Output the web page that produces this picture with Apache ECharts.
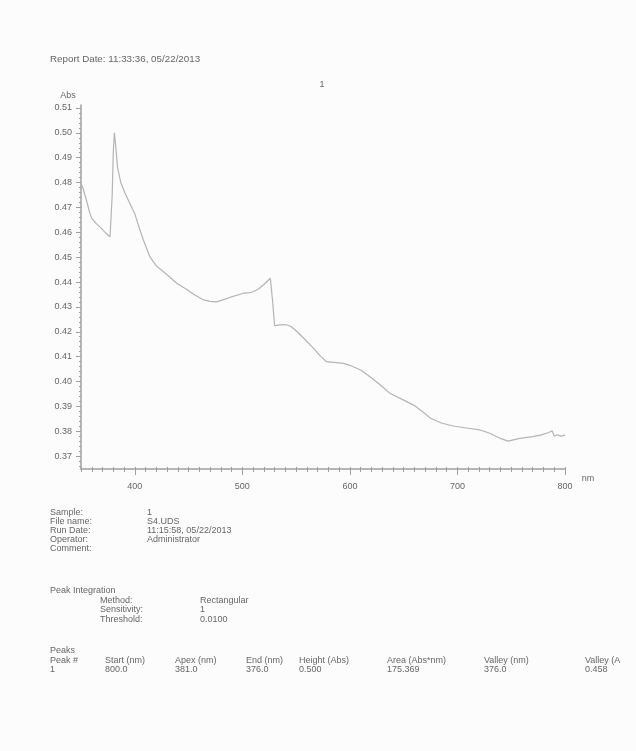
<!DOCTYPE html>
<html>
<head>
<meta charset="utf-8">
<script src="https://cdn.jsdelivr.net/npm/echarts@6/dist/echarts.min.js"></script>
<style>
html,body{margin:0;padding:0;background:#fcfcfc;}
#c{width:636px;height:751px;}
</style>
</head>
<body>
<div id="c"></div>
<script>
var wavelengths = [350,352,355,358,360,364,368,372,375,377,378,379,380,381,382,384,387,391,395,400,404,408,414,420,427,433,439,448,455,464,470,476,482,489,495,501,506,510,515,520,526,527,528,530,535,540,545,551,558,566,572,578,585,594,600,610,620,630,637,650,660,670,675,685,696,710,721,730,740,747,758,770,777,785,788,790,793,796,800];
var absorbance = [0.4797,0.4775,0.4730,0.4680,0.4656,0.4636,0.4620,0.4602,0.4589,0.4582,0.4590,0.4750,0.4920,0.5000,0.4960,0.4860,0.4800,0.4757,0.4720,0.4675,0.4620,0.4569,0.4502,0.4465,0.4440,0.4418,0.4395,0.4371,0.4350,0.4328,0.4322,0.4320,0.4328,0.4339,0.4347,0.4355,0.4356,0.4361,0.4372,0.4390,0.4415,0.4420,0.4330,0.4225,0.4228,0.4229,0.4222,0.4200,0.4170,0.4134,0.4105,0.4080,0.4077,0.4073,0.4065,0.4046,0.4015,0.3980,0.3953,0.3925,0.3903,0.3870,0.3852,0.3833,0.3821,0.3812,0.3805,0.3792,0.3771,0.3760,0.3771,0.3778,0.3784,0.3795,0.3802,0.3780,0.3786,0.3780,0.3784];
var yTickLabels = [0.37,0.38,0.39,0.40,0.41,0.42,0.43,0.44,0.45,0.46,0.47,0.48,0.49,0.50,0.51];
var xTickLabels = [400,500,600,700,800];
var xMinorTicks = [350,360,370,380,390,400,410,420,430,440,450,460,470,480,490,500,510,520,530,540,550,560,570,580,590,600,610,620,630,640,650,660,670,680,690,700,710,720,730,740,750,760,770,780,790,800];
var yMinorTicks = [0.366,0.368,0.370,0.372,0.374,0.376,0.378,0.380,0.382,0.384,0.386,0.388,0.390,0.392,0.394,0.396,0.398,0.400,0.402,0.404,0.406,0.408,0.410,0.412,0.414,0.416,0.418,0.420,0.422,0.424,0.426,0.428,0.430,0.432,0.434,0.436,0.438,0.440,0.442,0.444,0.446,0.448,0.450,0.452,0.454,0.456,0.458,0.460,0.462,0.464,0.466,0.468,0.470,0.472,0.474,0.476,0.478,0.480,0.482,0.484,0.486,0.488,0.490,0.492,0.494,0.496,0.498,0.500,0.502,0.504,0.506,0.508,0.510];

var sampleLabels = ['Sample:','File name:','Run Date:','Operator:','Comment:'];
var sampleValues = ['1','S4.UDS','11:15:58, 05/22/2013','Administrator',''];
var integLabels = ['Method:','Sensitivity:','Threshold:'];
var integValues = ['Rectangular','1','0.0100'];
var peakHeaders = ['Peak #','Start (nm)','Apex (nm)','End (nm)','Height (Abs)','Area (Abs*nm)','Valley (nm)','Valley (A'];
var peakRow = ['1','800.0','381.0','376.0','0.500','175.369','376.0','0.458'];

var TXT = '#666';
var FONT = 'Liberation Sans, Arial, sans-serif';
var AX = '#a0a0a0';
var Y_MIN = 0.3648, Y_MAX = 0.5112;

var chart = echarts.init(document.getElementById('c'), null, {renderer:'canvas'});

var graphics = [];
function txt(x, y, s, size, align) {
  graphics.push({type:'text', x:x, y:y, style:{text:s, fill:TXT, font:(size||9)+'px '+FONT, textAlign:align||'left', textVerticalAlign:'middle'}});
}
txt(50, 59, 'Report Date: 11:33:36, 05/22/2013', 9.8);
txt(322, 85, '1', 9, 'center');
txt(68, 96, 'Abs', 9, 'center');
txt(588, 479, 'nm', 9, 'center');
var sy = [513, 522, 531, 540, 549];
for (var i=0;i<sampleLabels.length;i++){ txt(50, sy[i], sampleLabels[i], 9); txt(147, sy[i], sampleValues[i], 9); }
txt(50, 591, 'Peak Integration', 9);
var iy = [601, 610, 620];
for (var i=0;i<integLabels.length;i++){ txt(100, iy[i], integLabels[i], 9); txt(200, iy[i], integValues[i], 9); }
txt(50, 651, 'Peaks', 9);
var px = [50,105,175,246,299,387,484,585];
for (var i=0;i<peakHeaders.length;i++){ txt(px[i], 661, peakHeaders[i], 9); txt(px[i], 670, peakRow[i], 9); }

var series = wavelengths.map(function(w,i){return [w, absorbance[i]];});

chart.setOption({
  animation:false,
  backgroundColor:'#fcfcfc',
  grid:{left:81, top:105, right:71, bottom:282},
  xAxis:[{
    type:'value', min:350, max:800,
    axisLine:{show:true, lineStyle:{color:AX, width:1.5}},
    axisTick:{show:true, customValues:xTickLabels, length:6, lineStyle:{color:AX}},
    axisLabel:{customValues:xTickLabels, color:TXT, fontSize:9, fontFamily:FONT, margin:13},
    splitLine:{show:false}
  },{
    type:'value', min:350, max:800, position:'bottom',
    axisLine:{show:false},
    axisTick:{show:true, customValues:xMinorTicks, length:3, lineStyle:{color:AX}},
    axisLabel:{show:false}, splitLine:{show:false}
  },{
    type:'value', min:350, max:800, position:'bottom',
    axisLine:{show:false},
    axisTick:{show:true, inside:true, customValues:xMinorTicks, length:2, lineStyle:{color:AX}},
    axisLabel:{show:false}, splitLine:{show:false}
  }],
  yAxis:[{
    type:'value', min:Y_MIN, max:Y_MAX,
    axisLine:{show:true, lineStyle:{color:AX, width:1.5}},
    axisTick:{show:true, customValues:yTickLabels, length:5, lineStyle:{color:AX}},
    axisLabel:{customValues:yTickLabels, color:TXT, fontSize:9, fontFamily:FONT, margin:9,
      formatter:function(v){return v.toFixed(2);}},
    splitLine:{show:false}
  },{
    type:'value', min:Y_MIN, max:Y_MAX, position:'left',
    axisLine:{show:false},
    axisTick:{show:true, customValues:yMinorTicks, length:2, lineStyle:{color:AX}},
    axisLabel:{show:false}, splitLine:{show:false}
  }],
  series:[{
    type:'line', data:series, showSymbol:false, smooth:false,
    lineStyle:{color:'#b4b4b4', width:1.2},
    xAxisIndex:0, yAxisIndex:0
  }],
  graphic:graphics
});
</script>
</body>
</html>
